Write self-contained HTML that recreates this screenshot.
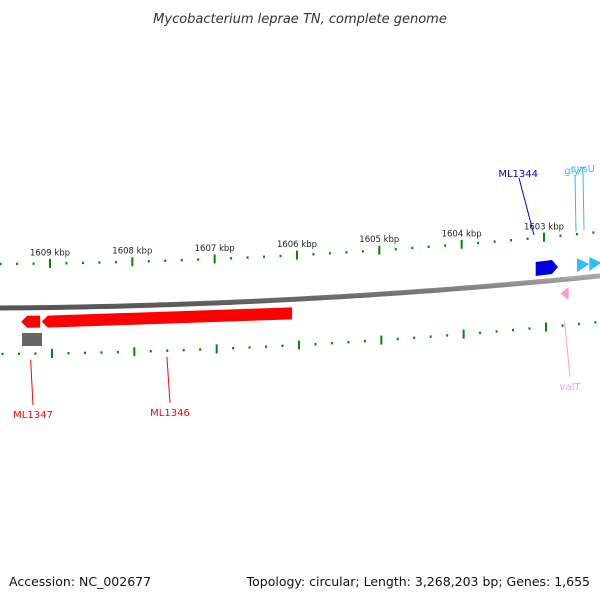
<!DOCTYPE html>
<html><head><meta charset="utf-8"><style>
body{margin:0;background:#fff;}
svg{display:block;font-family:"DejaVu Sans","Liberation Sans",sans-serif;}
</style></head><body>
<svg id="map" width="600" height="600" viewBox="0 0 600 600">
<defs>
<linearGradient id="bb" x1="0" y1="0" x2="0" y2="1"><stop offset="0" stop-color="#aaa"/><stop offset="0.5" stop-color="#777"/><stop offset="1" stop-color="#555"/></linearGradient>
</defs>
<text x="300" y="23" text-anchor="middle" font-size="13" font-style="italic" fill="#333">Mycobacterium leprae TN, complete genome</text>
<text x="9" y="586" font-size="12.5" fill="#111">Accession: NC_002677</text>
<text x="590" y="586" text-anchor="end" font-size="12.5" fill="#111">Topology: circular; Length: 3,268,203 bp; Genes: 1,655</text>
<g id="g"></g>
</svg>
<script>
const majorTicks=[1609,1608,1607,1606,1605,1604,1603];
const tickLabels=["1609 kbp","1608 kbp","1607 kbp","1606 kbp","1605 kbp","1604 kbp","1603 kbp"];
const featNames=["ML1347","ML1346","ML1344","glyT","cysU","valT"];
const featStart=[1609.35,1609.1,1603.1,1602.6,1602.45,1602.8];
const featEnd=[1609.12,1606.06,1602.83,1602.45,1602.3,1602.7];
const featStrand=[-1,-1,1,1,1,-1];
const featColor=["#f00","#f00","#00d","#3bf","#3bf","#f9c"];
const labelX=[33,170,519,583,590,570];
const labelY=[418,416,177,174,172,390];

const NS="http://www.w3.org/2000/svg";
const g=document.getElementById('g');
function X(kbp){return 50+(1609-kbp)*82.33;}
function Y(x){return 308-0.0067*x-0.000078*x*x;}
function mk(t,a){const e=document.createElementNS(NS,t);for(const k in a)e.setAttribute(k,a[k]);g.appendChild(e);return e;}
// backbone
let d="";for(let x=0;x<=600;x+=10)d+=(x?"L":"M")+x+" "+Y(x).toFixed(2);
let bb=mk('path',{d:d,stroke:"url(#bb)","stroke-width":5,fill:"none"});


// ticks
for(let k=1609.8;k>=1602.2;k-=0.2){
 const kr=Math.round(k*10)/10;const major=Math.abs(kr-Math.round(kr))<0.01;
 [[-44,0],[46,2]].forEach(([off,dx])=>{
  const x=X(kr)+dx;if(x<-2||x>602)return;const y=Y(x)+off;const h=major?4.5:1.2;
  const t=mk('rect',{x:x-(major?1:1),y:y-h,width:2,height:2*h,fill:"#080"});
  
  
 });
}
majorTicks.forEach((k,i)=>{const x=X(k);const t=mk('text',{x:x,y:Y(x)-52,"text-anchor":"middle","font-size":8.5,fill:"#222"});t.textContent=tickLabels[i];
 
 });
// features
featNames.forEach((n,i)=>{
 const x1=X(featStart[i]),x2=X(featEnd[i]);const s=featStrand[i];
 const small=(x2-x1)<20&&i>=3;
 const o1=s>0?-20:8,o2=s>0?-6:20;
 let pts=[];
 if(small){
  const mid=(o1+o2)/2,xl=Math.min(x1,x2),xr=Math.max(x1,x2);
  if(i===5){pts=[[xl,290-Y(xl)+Y(xl)],[xr,287],[xr,300]];pts=[[xl,293.5],[xr,287],[xr,300]];}
  else pts=[[xl,Y(xl)+o1],[xr,Y(xr)+mid],[xl,Y(xl)+o2]];
 } else {
  const xl=Math.min(x1,x2),xr=Math.max(x1,x2),hl=6;
  if(s<0){pts=[[xl,Y(xl)+(o1+o2)/2],[xl+hl,Y(xl)+o1],[xr,Y(xr)+o1],[xr,Y(xr)+o2],[xl+hl,Y(xl)+o2]];}
  else{pts=[[xl,Y(xl)+o1],[xr-hl,Y(xr)+o1],[xr,Y(xr)+(o1+o2)/2],[xr-hl,Y(xr)+o2],[xl,Y(xl)+o2]];}
 }
 const p=mk('polygon',{points:pts.map(q=>q[0].toFixed(1)+","+q[1].toFixed(1)).join(" "),fill:featColor[i]});
 
 
 if(i===0){const r=mk('rect',{x:22,y:333,width:20,height:13,fill:"#666"});
  
  }
 const xm=(x1+x2)/2;
 const ly=s>0?Y(xm)-50:Y(xm)+ (i===5?42:52);
 const ln=mk('line',{x1:i===3?576:(i===4?584:(i===2?534:xm)),y1:s>0?ly+4:ly,x2:labelX[i]+(i===3?-8:(i===4?-7:0)),y2:labelY[i]+(s>0?1:-13),stroke:featColor[i],"stroke-width":1});
 
 
 const tx=mk('text',{x:labelX[i]+(i===3?-8:(i===4?-7:0)),y:labelY[i],"text-anchor":i===2?"end":"middle","font-size":10,fill:featColor[i]});
 if(i===2)tx.setAttribute('x',538);
 tx.textContent=n;
 
 
});
</script>
</body></html>
